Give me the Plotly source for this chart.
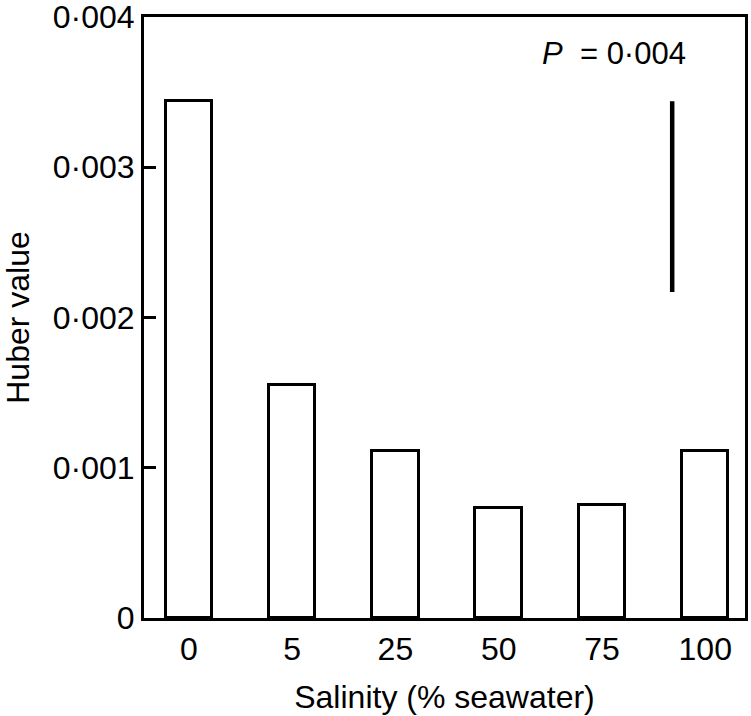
import plotly.graph_objects as go

categories = ["0", "5", "25", "50", "75", "100"]
huber_values = [0.00344, 0.00155, 0.00111, 0.00073, 0.00075, 0.00111]
y_tick_vals = [0, 0.001, 0.002, 0.003, 0.004]
y_tick_text = ["0", "0·001", "0·002", "0·003", "0·004"]
lsd_x = [4.68, 4.68]
lsd_y = [0.00344, 0.00217]
p_label = "<i>P</i>  = 0·004"

positions = list(range(len(categories)))
FONT = "Liberation Sans, Arial, sans-serif"

fig = go.Figure()
fig.add_trace(go.Bar(
    x=positions, y=huber_values, width=0.45,
    marker=dict(color="white", line=dict(color="black", width=3)),
    showlegend=False, hoverinfo="skip",
))
fig.add_trace(go.Scatter(
    x=lsd_x, y=lsd_y, mode="lines",
    line=dict(color="black", width=4.5),
    showlegend=False, hoverinfo="skip",
))
fig.add_annotation(
    x=4.12, y=0.00376, xref="x", yref="y", text=p_label,
    showarrow=False, font=dict(family=FONT, size=31, color="black"),
    xanchor="center", yanchor="middle",
)

fig.update_layout(
    width=751, height=716,
    margin=dict(l=144, r=6, t=17, b=98),
    plot_bgcolor="white", paper_bgcolor="white",
    font=dict(family=FONT, size=32, color="black"),
    bargap=0,
)
fig.update_xaxes(
    range=[-0.4345, 5.385], tickvals=positions, ticktext=categories,
    showline=True, linecolor="black", linewidth=3, mirror=True,
    ticks="", showgrid=False, zeroline=False, automargin=False,
    tickfont=dict(size=32), ticklabelstandoff=1,
    title=dict(text="Salinity (% seawater)", font=dict(size=32), standoff=20),
)
fig.update_yaxes(
    range=[0, 0.0040001], tickvals=y_tick_vals, ticktext=y_tick_text,
    showline=True, linecolor="black", linewidth=3, mirror=True,
    ticks="inside", ticklen=12, tickwidth=3, tickcolor="black",
    showgrid=False, zeroline=False, automargin=False,
    ticklabeloverflow="allow",
    tickfont=dict(size=32),
    title=dict(text="Huber value", font=dict(size=32), standoff=22),
)

# remove the browser's default 8px body margin so the figure fills the window
fig.write_html(
    "out.html",
    config={"displayModeBar": False},
    post_script="document.body.style.margin='0';",
)
